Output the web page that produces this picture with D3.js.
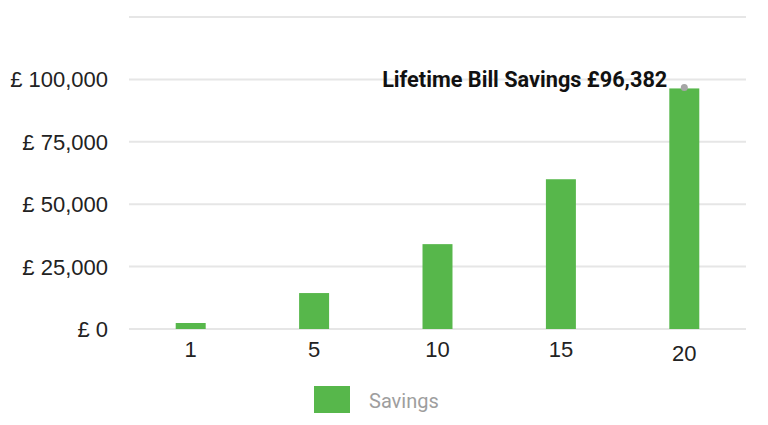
<!DOCTYPE html>
<html lang="en">
<head>
    <meta charset="UTF-8">
    <title>Lifetime Bill Savings</title>
    <script src="https://cdn.jsdelivr.net/npm/d3@7"></script>
    <style>
        html, body { margin: 0; padding: 0; background: #fff; }
        svg { display: block; }
    </style>
</head>
<body>
<script>
    // data
    var years = ['1', '5', '10', '15', '20'];
    var savings = [2400, 14400, 34000, 60000, 96382];
    var yTicks = [0, 25000, 50000, 75000, 100000, 125000];
    var seriesName = 'Savings';
    var noteText = 'Lifetime Bill Savings £96,382';

    var width = 768;
    var height = 425;
    var padding = {top: 17, bottom: 96, left: 129, right: 22};
    var green = '#57b74b';

    var svg = d3.select('body').append('svg')
        .attr('width', width)
        .attr('height', height);

    var x = d3.scaleBand()
        .domain(years)
        .range([padding.left, width - padding.right])
        .paddingInner(0.757)
        .paddingOuter(0.3785);

    var y = d3.scaleLinear()
        .domain([0, 125000])
        .range([height - padding.bottom, padding.top]);

    //网格线
    svg.append('g').selectAll('line').data(yTicks).enter().append('line')
        .attr('x1', padding.left)
        .attr('x2', width - padding.right)
        .attr('y1', function(d){return y(d);})
        .attr('y2', function(d){return y(d);})
        .attr('stroke', '#e6e6e6')
        .attr('stroke-width', 2);

    //y轴文字
    var fmt = d3.format(',');
    svg.append('g').selectAll('text').data(yTicks.filter(function(d){return d <= 100000;})).enter().append('text')
        .attr('x', 108)
        .attr('y', function(d){return y(d);})
        .attr('dy', '0.36em')
        .attr('text-anchor', 'end')
        .attr('font-family', 'Liberation Sans, Arial, sans-serif')
        .attr('font-size', '22px')
        .attr('fill', '#222')
        .text(function(d){return '£ ' + fmt(d);});

    //柱子
    svg.append('g').selectAll('rect').data(savings).enter().append('rect')
        .attr('x', function(d, i){return x(years[i]);})
        .attr('y', function(d){return y(d);})
        .attr('width', x.bandwidth())
        .attr('height', function(d){return y(0) - y(d);})
        .attr('fill', green);

    //x轴文字
    svg.append('g').selectAll('text').data(years).enter().append('text')
        .attr('x', function(d){return x(d) + x.bandwidth() / 2;})
        .attr('y', function(d, i){return i === years.length - 1 ? 361 : 357;})
        .attr('text-anchor', 'middle')
        .attr('font-family', 'Liberation Sans, Arial, sans-serif')
        .attr('font-size', '22px')
        .attr('fill', '#222')
        .text(function(d){return d;});

    //标注
    var last = savings.length - 1;
    svg.append('circle')
        .attr('cx', x(years[last]) + x.bandwidth() / 2)
        .attr('cy', y(savings[last]) - 1)
        .attr('r', 3.5)
        .attr('fill', '#a6a6a6');
    svg.append('text')
        .attr('x', x(years[last]) - 2)
        .attr('y', y(savings[last]) - 1)
        .attr('text-anchor', 'end')
        .attr('font-family', 'Roboto, sans-serif')
        .attr('font-weight', 'bold')
        .attr('font-size', '21.7px')
        .attr('fill', '#111')
        .text(noteText);

    //图例
    var legend = svg.append('g');
    legend.append('rect')
        .attr('x', 314)
        .attr('y', 386)
        .attr('width', 36)
        .attr('height', 27)
        .attr('fill', green);
    legend.append('text')
        .attr('x', 369)
        .attr('y', 408)
        .attr('font-family', 'Roboto, sans-serif')
        .attr('font-size', '20px')
        .attr('fill', '#9e9e9e')
        .text(seriesName);
</script>
</body>
</html>
